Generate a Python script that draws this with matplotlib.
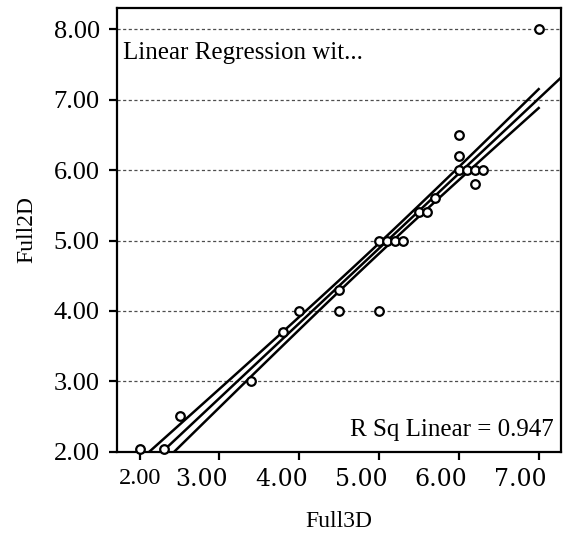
import numpy as np
import matplotlib
matplotlib.use("Agg")
import matplotlib.pyplot as plt
from matplotlib.transforms import ScaledTranslation

# points
full3d = [2.0, 2.3, 2.5, 3.4, 3.8, 4.0, 4.5, 4.5, 5.0, 5.0, 5.1, 5.2,
          5.3, 5.5, 5.6, 5.7, 6.0, 6.0, 6.0, 6.1, 6.2, 6.3, 6.2, 7.0]
full2d = [2.04, 2.04, 2.5, 3.0, 3.7, 4.0, 4.3, 4.0, 4.0, 5.0, 5.0, 5.0,
          5.0, 5.4, 5.4, 5.6, 6.5, 6.2, 6.0, 6.0, 6.0, 6.0, 5.8, 8.0]
xticks = [2.0, 3.0, 4.0, 5.0, 6.0, 7.0]
yticks = [2.0, 3.0, 4.0, 5.0, 6.0, 7.0, 8.0]
r_sq_text = "R Sq Linear = 0.947"
title_text = "Linear Regression wit..."

serif = "Liberation Serif"
wide = "DejaVu Serif"

x = np.array(full3d)
y = np.array(full2d)
n = len(x)

# least squares fit + band around the mean
slope, icpt = np.polyfit(x, y, 1)
resid = y - (icpt + slope * x)
s = np.sqrt(np.sum(resid ** 2) / (n - 2))
sxx = np.sum((x - x.mean()) ** 2)
band_t = 1.0  # band drawn narrow in the original

fig = plt.figure(figsize=(5.63, 5.37), dpi=100)
ax = fig.add_axes([0.207, 0.159, 0.7895, 0.8255])

xlim = (1.71, 7.28)
ax.set_xlim(xlim)
ax.set_ylim(2.0, 8.3)

ax.set_yticks(yticks)
ax.grid(axis="y", color="0.3", lw=0.9, ls=(0, (2.5, 2)))
ax.set_axisbelow(True)

xx = np.linspace(xlim[0], xlim[1], 50)
ax.plot(xx, icpt + slope * xx, color="black", lw=1.8)
xb = np.linspace(x.min(), x.max(), 50)
half = band_t * s * np.sqrt(1.0 / n + (xb - x.mean()) ** 2 / sxx)
ax.plot(xb, icpt + slope * xb + half, color="black", lw=1.8)
ax.plot(xb, icpt + slope * xb - half, color="black", lw=1.8)

ax.plot(x, y, ls="", marker="o", ms=6.2, mfc="white", mec="black", mew=1.6,
        clip_on=False, zorder=5)

for sp in ax.spines.values():
    sp.set_linewidth(1.6)
ax.tick_params(direction="out", length=6, width=1.6, pad=6)

ax.set_xticks(xticks)
ax.set_xticklabels(["%.2f" % v for v in xticks])
shift = ScaledTranslation(-18 / 100, 0, fig.dpi_scale_trans)
for i, lab in enumerate(ax.get_xticklabels()):
    if i == 0:
        lab.set_fontfamily(serif)
        lab.set_fontsize(17.5)
    else:
        lab.set_fontfamily(wide)
        lab.set_fontsize(17)
        lab.set_transform(lab.get_transform() + shift)
ax.set_yticklabels(["%.2f" % v for v in yticks], fontfamily=serif, fontsize=19)

ax.set_xlabel("Full3D", fontfamily=serif, fontsize=17, labelpad=14)
ax.set_ylabel("Full2D", fontfamily=serif, fontsize=17, labelpad=12)

ax.text(0.015, 0.9, title_text, transform=ax.transAxes, ha="left",
        va="center", fontfamily=serif, fontsize=18)
ax.text(0.983, 0.048, r_sq_text, transform=ax.transAxes, ha="right",
        va="center", fontfamily=serif, fontsize=18)

fig.savefig("out.png", dpi=100)
